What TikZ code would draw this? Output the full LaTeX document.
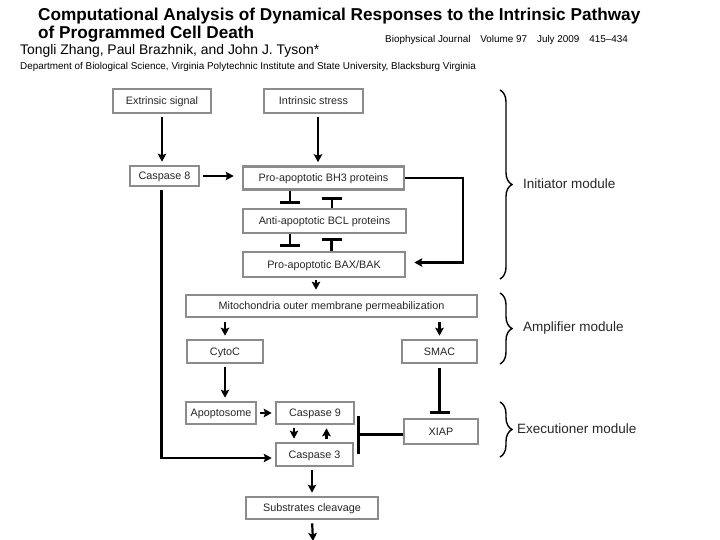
\documentclass[tikz,border=0pt]{standalone}
\usepackage{fontspec}
\setmainfont{Liberation Sans}
\usetikzlibrary{shapes,arrows}
\usetikzlibrary{arrows.meta}
\usetikzlibrary{decorations.pathreplacing}

\begin{document}
\begin{tikzpicture}[x=1pt, y=-1pt,
  box/.style={shape=rectangle, draw=gray!90, line width=2.6pt, inner sep=0pt, text height=0.72em, text depth=0pt, text=black!85, font=\fontsize{10.8}{12}\selectfont},
  act/.style={-{Stealth[length=8pt,width=8.5pt,inset=1.5pt]}, line width=2.2pt, shorten <=3pt, shorten >=3pt},
  inh/.style={-{Bar[width=20pt,line width=2.8pt]}, line width=2.2pt, shorten >=4pt},
  brc/.style={decorate, decoration={brace, amplitude=12pt}, line width=1.4pt},
  module/.style={anchor=west, inner sep=0pt, text=black!85, font=\fontsize{13.5}{15}\selectfont}]
\useasboundingbox (0,0) rectangle (720,540);

% header
\node (title) at (38,16.5) [anchor=west, inner sep=0pt, font=\fontsize{17.2}{20}\selectfont\bfseries] {Computational Analysis of Dynamical Responses to the Intrinsic Pathway};
\node (title2) at (38,34) [anchor=west, inner sep=0pt, font=\fontsize{17.2}{20}\selectfont\bfseries] {of Programmed Cell Death};
\node (journal) at (385,40) [anchor=west, inner sep=0pt, font=\fontsize{9.9}{11}\selectfont] {Biophysical Journal\quad Volume 97\quad July 2009\quad 415--434};
\node (authors) at (20,51) [anchor=west, inner sep=0pt, font=\fontsize{13.9}{15}\selectfont] {Tongli Zhang, Paul Brazhnik, and John J. Tyson*};
\node (dept) at (20,67) [anchor=west, inner sep=0pt, font=\fontsize{9.9}{11}\selectfont] {Department of Biological Science, Virginia Polytechnic Institute and State University, Blacksburg Virginia};

% boxes
\node (ext) at (162,101) [box, minimum width=98pt, minimum height=24pt] {Extrinsic signal};
\node (intr) at (313.5,101) [box, minimum width=99pt, minimum height=24pt] {Intrinsic stress};
\node (casp8) at (164.5,176) [box, minimum width=69pt, minimum height=20pt] {Caspase 8};
\node (bh3) at (323.5,178) [box, minimum width=161pt, minimum height=23pt] {Pro-apoptotic BH3 proteins};
\node (bcl) at (324.5,221) [box, minimum width=163pt, minimum height=24pt] {Anti-apoptotic BCL proteins};
\node (bax) at (324,264.5) [box, minimum width=162pt, minimum height=25pt] {Pro-apoptotic BAX/BAK};
\node (momp) at (331.5,306) [box, minimum width=291pt, minimum height=22pt] {Mitochondria outer membrane permeabilization};
\node (cytoc) at (225,351.5) [box, minimum width=76pt, minimum height=23pt] {CytoC};
\node (smac) at (439.5,351.5) [box, minimum width=75pt, minimum height=23pt] {SMAC};
\node (apop) at (221,413) [box, minimum width=70pt, minimum height=22pt] {Apoptosome};
\node (casp9) at (315,413) [box, minimum width=78pt, minimum height=22pt] {Caspase 9};
\node (casp3) at (314.5,454.5) [box, minimum width=77pt, minimum height=23pt] {Caspase 3};
\node (xiap) at (441,431.5) [box, minimum width=74pt, minimum height=25pt] {XIAP};
\node (subs) at (312,508) [box, minimum width=132pt, minimum height=22pt] {Substrates cleavage};
\coordinate (xbar) at (357,434.5);
\coordinate (out) at (313,541);

% initiator
\draw [act] (ext.south) -- (ext.south |- casp8.north);
\draw [act] ([xshift=4.5pt]intr.south) -- ([xshift=4.5pt]intr.south |- bh3.north);
\draw [act, shorten >=8pt] (casp8.east) -- (casp8.east -| bh3.west);
\draw [inh] ([xshift=-33.5pt]bh3.south) -- ([xshift=-33.5pt]bh3.south |- bcl.north);
\draw [inh, shorten >=6pt] ([xshift=7.5pt]bcl.north) -- ([xshift=7.5pt]bcl.north |- bh3.south);
\draw [inh] ([xshift=-34.5pt]bcl.south) -- ([xshift=-34.5pt]bcl.south |- bax.north);
\draw [inh] ([xshift=7.5pt]bax.north) -- ([xshift=7.5pt]bax.north |- bcl.south);
\draw [act, shorten <=0pt, shorten >=8pt] (bh3.east) -- ++(58,0) |- ([yshift=2pt]bax.east);

% amplifier
\draw [act, shorten <=1.5pt, shorten >=4pt] ([xshift=-8pt]bax.south) -- ([xshift=-8pt]bax.south |- momp.north);
\draw [act, shorten <=4pt] (cytoc.north |- momp.south) -- (cytoc.north);
\draw [act, shorten <=4pt] (smac.north |- momp.south) -- (smac.north);
\draw [act] (cytoc.south) -- (cytoc.south |- apop.north);
\draw [inh, shorten <=4pt] (smac.south) -- (smac.south |- xiap.north);

% executioner
\draw [act] (apop.east) -- (casp9.west);
\draw [act] ([xshift=-21pt]casp9.south) -- ([xshift=-21pt]casp9.south |- casp3.north);
\draw [act] ([xshift=12pt]casp3.north) -- ([xshift=12pt]casp3.north |- casp9.south);
\draw [act] ([xshift=-3pt]casp8.south) |- ([yshift=-3.5pt]casp3.west);
\draw [-{Bar[width=38pt,line width=2.8pt]}, line width=2.2pt] (xiap.west |- xbar) -- (xbar);
\draw [act] (subs.north |- casp3.south) -- (subs.north);
\draw [act, shorten >=0pt] (subs.south) -- (out);

% modules
\draw [brc] (500,90) -- (500,279);
\draw [brc] (500,293) -- (500,364);
\draw [brc] (500,402) -- (500,457);
\node (initiator) at (523,184) [module] {Initiator module};
\node (amplifier) at (523,328) [module] {Amplifier module};
\node (executioner) at (517,429) [module] {Executioner module};
\end{tikzpicture}
\end{document}
